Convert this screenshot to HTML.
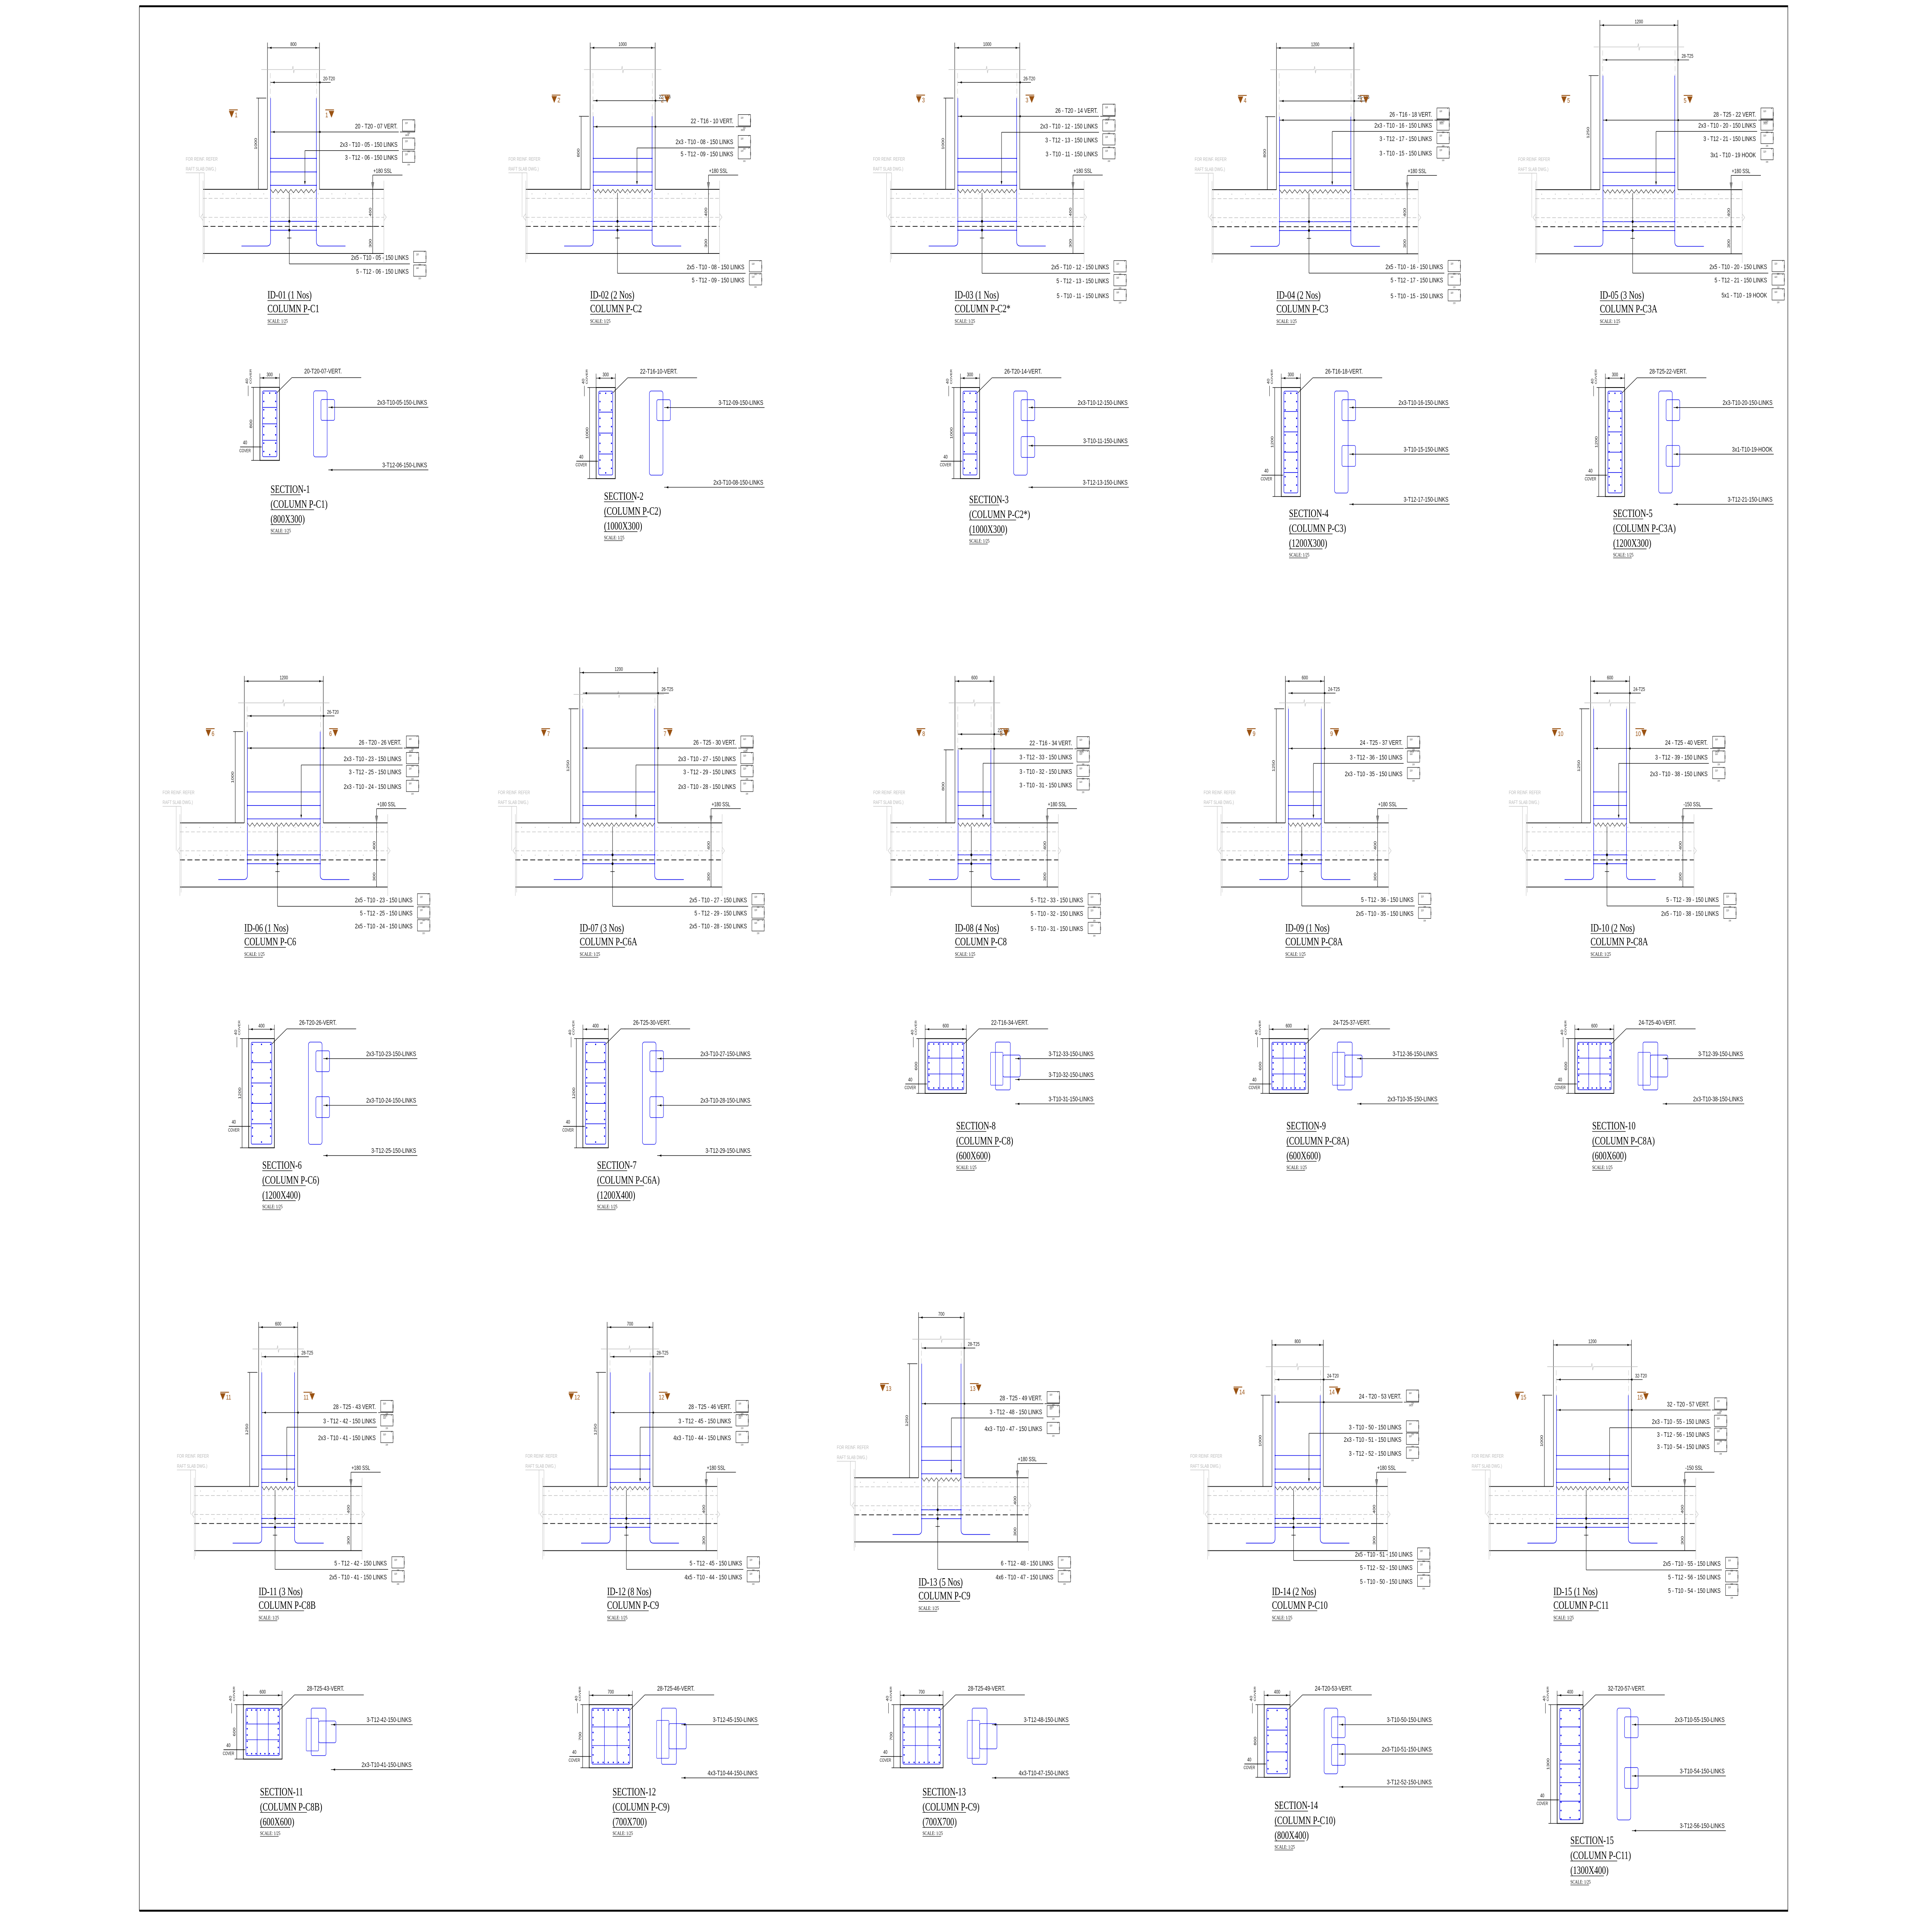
<!DOCTYPE html>
<html><head><meta charset="utf-8">
<style>
html,body{margin:0;padding:0;background:#fff;overflow:hidden;width:100%;height:100%;}
svg{display:block;width:100vw;height:100vh;}
text{font-family:"Liberation Sans",sans-serif;}
.s{font-family:"Liberation Serif",serif;}
</style></head>
<body>
<svg id="d" xmlns="http://www.w3.org/2000/svg" viewBox="0 0 1560.22 1103.78" preserveAspectRatio="none">
<rect width="1560.22" height="1103.78" fill="#fff"/>
</svg>
<script>
let o='';
const BL='#0000ee',GR='#b8b8b8',BR='#9a5212';
function L(x1,y1,x2,y2,c,w,d){o+=`<line x1="${x1.toFixed(2)}" y1="${y1.toFixed(2)}" x2="${x2.toFixed(2)}" y2="${y2.toFixed(2)}" stroke="${c||'#000'}" stroke-width="${w||0.3}"${d?` stroke-dasharray="${d}"`:''}/>`;}
function P(d,c,w,f,da){o+=`<path d="${d}" stroke="${c||'#000'}" stroke-width="${w||0.3}" fill="${f||'none'}"${da?` stroke-dasharray="${da}"`:''}/>`;}
function R(x,y,w,h,c,sw,rx){o+=`<rect x="${x.toFixed(2)}" y="${y.toFixed(2)}" width="${w.toFixed(2)}" height="${h.toFixed(2)}" stroke="${c||'#000'}" stroke-width="${sw||0.3}" fill="none"${rx?` rx="${rx}"`:''}/>`;}
function C(x,y,r,f){o+=`<circle cx="${x.toFixed(2)}" cy="${y.toFixed(2)}" r="${r}" fill="${f||BL}"/>`;}
function T(x,y,s,fs,a,c,cls,rot){
  s=s.replace(/&/g,'&amp;');
  let tr=rot?` transform="rotate(-90 ${x.toFixed(2)} ${y.toFixed(2)})"`:'';
  o+=`<text x="${x.toFixed(2)}" y="${y.toFixed(2)}" font-size="${fs}" fill="${c||'#111'}"${a?` text-anchor="${a}"`:''}${cls?` class="${cls}"`:''}${tr}>${s}</text>`;}
function arrowH(x,y,dir){P(`M${x} ${y}l${-1.6*dir} -0.5v1z`,'#000',0.2,'#000');}
function marker(x,y,n,left){
  if(left){L(x,y-4.2,x+7,y-4.2,BR,0.5);P(`M${x} ${y-3.5}h4l-2 3.6z`,BR,0.2,BR);T(x+4.6,y,n,4,null,BR);}
  else{L(x,y-4.2,x+7,y-4.2,BR,0.5);T(x,y,n,4,null,BR);P(`M${x+3+ (n.length-1)*2} ${y-3.5}h4l-2 3.6z`,BR,0.2,BR);}
}
function box(x,y){R(x,y,10,6.5,'#000',0.25);P(`M${x+8.5} ${y+0.6}l0.6 -0.8`,'#000',0.2);T(x+2,y+2.3,'110',1.4);T(x+10.4,y+4.5,'210',1.2,null,'#111',null,true);T(x+4,y+8.2,'220',1.2);}

function elev(e){
  const x=e.x,y=e.y,w=e.w,xr=x+w,bt=-e.h*0.0525,dt=e.dt,lx=xr+63;
  L(x,y+dt-3,x,y,'#000',0.3);L(xr,y+dt-3,xr,y,'#000',0.3);
  L(x,y+dt,xr,y+dt,'#000',0.3);arrowH(x+1.6,y+dt,-1);arrowH(xr-1.6,y+dt,1);
  T(x+w/2,y+dt-1,e.dim,3,'middle');
  const by=y+dt+12.5,m=x+w/2;
  P(`M${x-5} ${by}H${m-1}l0.6 -2l0.6 4l0.6 -2H${xr+5}`,GR,0.3);
  L(x+2.3,by+2,x+2.3,y+bt,GR,0.25,'3 1.5');L(xr-2.3,by+2,xr-2.3,y+bt,GR,0.25,'3 1.5');
  const vy=y+bt-9;
  L(x+2.5,vy,xr+9,vy,'#000',0.3);arrowH(x+4.1,vy,-1);arrowH(xr-0.9,vy,-1);
  T(xr+3,vy-1.2,e.vert,3);
  P(`M${x+2.5} ${y+bt}V${y+30}Q${x+2.5} ${y+32.6} ${x-0.5} ${y+32.6}H${x-21}`,BL,0.35);
  P(`M${xr-2.5} ${y+bt}V${y+30}Q${xr-2.5} ${y+32.6} ${xr+0.5} ${y+32.6}H${xr+21}`,BL,0.35);
  for(const r of [-2.3,-10,-17.8,18.4,23.5]){L(x+2.5,y+r,xr-2.5,y+r,BL,0.35);C(x+2.5,y+r,0.35);C(xr-2.5,y+r,0.35);}
  let z=`M${x+2.5} ${y}`;const n=Math.max(3,Math.round((w-5)/4));const st=(w-5)/n;
  for(let i=0;i<n;i++){z+=`l${st/2} 2l${st/2} -2`;}P(z,'#000',0.25);
  const sl=x-52,sr=xr+52;
  L(sl,y,x,y,'#000',0.4);L(xr,y,sr,y,'#000',0.4);
  L(sl,y+5.2,sr,y+5.2,GR,0.3,'3 1.5');L(sl,y+16.1,sr,y+16.1,GR,0.3,'3 1.5');
  L(sl,y+21.3,sr,y+21.3,'#000',0.4,'4 2');L(sl,y+36.9,sr,y+36.9,'#000',0.4);
  L(sl,y-5,sl,y+42,GR,0.25);L(sr,y-5,sr,y+42,GR,0.25);
  P(`M${sl} ${y+14}l-2 2l2 2M${sr} ${y+14}l2 2l-2 2`,GR,0.25);
  for(let k=sl+5;k<sr;k+=11){C(k,y+2.6,0.3,GR);C(k,y+18.6,0.3,GR);}
  const dx=xr+43;
  L(dx,y,dx,y+36.9,'#000',0.3);L(dx-1.5,y+21.3,dx+1.5,y+21.3,'#000',0.3);
  T(dx-1,y+13,'400',3,'middle','#111',null,true);T(dx-1,y+31,'300',3,'middle','#111',null,true);
  P(`M${dx-1} ${y-4}h2l-1 4z`,'#555',0.2,'#888');
  L(dx,y-4,dx,y-8.2,'#000',0.3);L(dx,y-8.2,dx+24,y-8.2,'#000',0.3);T(dx+0.5,y-9.5,e.ssl,3.4);
  L(x-7.3,y+bt,x-7.3,y,'#000',0.3);L(x-9,y+bt,x-1,y+bt,'#000',0.3);
  T(x-8.5,y+bt/2,e.hd||String(e.h),3,'middle','#111',null,true);
  marker(x-31,y+(e.my||-50),e.mk,true);marker(xr+4.7,y+(e.my||-50),e.mk,false);
  T(x-66,y-16.5,'FOR REINF. REFER',2.8,null,GR);T(x-66,y-10.8,'RAFT SLAB DWG.)',2.8,null,GR);
  P(`M${x-66} ${y-9.5}H${x-51}V${y+40}M${x-55} ${y-9.5}V${y+16}`,GR,0.25);
  e.top.forEach((s,i)=>{const ly=y+e.tr[i];T(lx,ly,s,3.9,'end');box(lx+4,ly-5);});
  const l0=y+e.tr[0]+2;L(x+2.5,l0,lx+1,l0,'#000',0.3);arrowH(x+4.1,l0,-1);arrowH(xr-0.9,l0,-1);
  P(`M${lx+2} ${l0}H${lx+14}v-5`,'#000',0.3);T(lx+6,l0+2.3,'1625',1.5);
  const l1=y+e.tr[1]+2.2;const ax=x+w*0.72;
  L(ax,l1,lx+1,l1,'#000',0.3);L(ax,l1,ax,y-3,'#000',0.3);P(`M${ax-0.5} ${y-4.6}h1l-0.5 1.6z`,'#000',0.2,'#000');
  const cx=x+w*0.42;
  L(cx,y+2,cx,y+e.br[0]+2.3,'#000',0.3);L(cx-1.7,y+28,cx+1.7,y+28,'#000',0.3);
  C(cx,y+18.4,0.8,'#000');C(cx,y+23.5,0.8,'#000');
  L(cx,y+e.br[0]+2.3,lx+10,y+e.br[0]+2.3,'#000',0.3);
  e.bot.forEach((s,i)=>{const ly=y+e.br[i];T(lx+9,ly,s,3.9,'end');box(lx+13,ly-5);});
  const ty=e.ty;
  T(x,ty,e.id,6.3,null,'#000','s');L(x,ty+1.2,x+e.id.length*2.7,ty+1.2,'#000',0.3);
  T(x,ty+7.9,e.col,6.3,null,'#000','s');L(x,ty+9.1,x+e.col.length*3.05,ty+9.1,'#000',0.3);
  T(x,ty+14,'SCALE: 1/25',3,null,'#000','s');L(x,ty+14.8,x+15,ty+14.8,'#000',0.25);
}

function sec(s){
  const x=s.x,y=s.y,w=s.w,h=s.h;
  R(x,y,w,h,'#000',0.45);
  const ix=x+2.1,iy=y+2.1,iw=w-4.2,ih=h-4.2;
  R(ix,iy,iw,ih,BL,0.35,0.8);
  if(w<25){
    const nseg=Math.round(h/12);
    for(let k=1;k<nseg;k++){const yy=iy+ih*k/nseg;L(ix,yy,ix+iw,yy,BL,0.35);}
    const cols=[ix+1,ix+iw-1];
    for(let yy=iy+1.2;yy<iy+ih;yy+=4.8){C(cols[0],yy,0.45);C(cols[1],yy,0.45);}
    C(ix+iw/2,iy+1.2,0.45);C(ix+iw/2,iy+ih-1.2,0.45);
  }else{
    L(ix+iw/3,iy,ix+iw/3,iy+ih,BL,0.3);L(ix+2*iw/3,iy,ix+2*iw/3,iy+ih,BL,0.3);
    L(ix,iy+ih/3,ix+iw,iy+ih/3,BL,0.3);L(ix,iy+2*ih/3,ix+iw,iy+2*ih/3,BL,0.3);
    for(let k=0;k<=7;k++){const xx=ix+1+(iw-2)*k/7;C(xx,iy+1,0.45);C(xx,iy+ih-1,0.45);}
    for(let k=1;k<7;k++){const yy=iy+1+(ih-2)*k/7;C(ix+1,yy,0.45);C(ix+iw-1,yy,0.45);}
  }
  L(x,y-8,x,y,'#000',0.25);L(x+w,y-8,x+w,y,'#000',0.25);
  L(x,y-5.4,x+w,y-5.4,'#000',0.3);arrowH(x+1.6,y-5.4,-1);arrowH(x+w-1.6,y-5.4,1);
  T(x+w/2,y-6.4,s.dw,3,'middle');
  L(x-5.3,y,x-5.3,y+h,'#000',0.3);L(x-7,y+h,x,y+h,'#000',0.3);L(x-7,y,x,y,'#000',0.3);
  T(x-6.3,y+h/2,s.dh,3,'middle','#111',null,true);
  T(x-9.5,y-2,'40',2.8,null,'#111',null,true);T(x-6.8,y-2,'COVER',2.4,null,'#111',null,true);
  L(x-9.5,y+5,x-9.5,y-1,'#000',0.25);
  T(x-12,y+h*0.78,'40',3,'middle');T(x-12,y+h*0.78+4.5,'COVER',2.6,'middle');
  L(x-16,y+h*0.78+1.5,x+1.5,y+h*0.78+1.5,'#000',0.35);
  const sx=x+w+27.5;
  if(w<25){
    R(sx,y+2,11,h-4,BL,0.3,1.5);
    const n=s.links.length;
    for(let k=0;k<n-1;k++){R(sx+6,y+6+k*(h-10)/(n-1)+1,11,Math.min(12,(h-14)/(n-1)),BL,0.3,1);}
  }else{
    R(sx-4,y+2,12,h-4,BL,0.3,1);R(sx+2,y+h*0.3,14,h*0.4,BL,0.3,1);R(sx-8,y+h*0.25,10,h*0.6,BL,0.25,0.5);
  }
  const vx=x+w+20;
  T(vx,y-8,s.vert,3.9);L(vx-10,y-5.6,vx+46,y-5.6,'#000',0.3);L(vx-10,y-5.6,x+w-2,y+3,'#000',0.3);
  const n=s.links.length,re=x+136+Math.max(0,w-16)*0.05;
  s.links.forEach((t,i)=>{const ly=y+8+(h-2)*(n==1?0.5:i/(n-1))*0.95+ (i==0?2:0);
    T(re-1,ly,t,3.9,'end');L(sx+12,ly+1.5,re,ly+1.5,'#000',0.3);arrowH(sx+13.6,ly+1.5,-1);});
  const tx=s.tx,ty=s.ty;
  s.title.forEach((t,i)=>{const yy=ty+i*8.6;T(tx,yy,t,6.3,null,'#000','s');L(tx,yy+1.2,tx+t.length*2.7,yy+1.2,'#000',0.3);});
  T(tx,ty+22.8,'SCALE: 1/25',3,null,'#000','s');L(tx,ty+23.6,tx+15,ty+23.6,'#000',0.25);
}

L(112.5,3.6,1444,3.6,'#000',1.1);L(112.5,1099,1444,1099,'#000',1.1);
L(112.5,3.6,112.5,1099,'#000',0.35);L(1443.8,3.6,1443.8,1099,'#000',0.35);

const T4=[-45,-35.5,-28,-19.5];
const E=[
{x:216,y:108.9,w:42,h:1000,dt:-81.4,mk:'1',my:-41.5,dim:'800',vert:'20-T20',ssl:'+180 SSL',id:'ID-01 (1 Nos)',col:'COLUMN P-C1',ty:171.7,
 top:['20 - T20 - 07  VERT.','2x3 - T10 - 05 - 150  LINKS','3 - T12 - 06 - 150  LINKS'],tr:[-35,-24.5,-17],
 bot:['2x5 - T10 - 05 - 150  LINKS','5 - T12 - 06 - 150  LINKS'],br:[40.6,48.5]},
{x:476.6,y:108.9,w:52.5,h:800,dt:-81.4,mk:'2',my:-50,dim:'1000',vert:'22-T16',ssl:'+180 SSL',id:'ID-02 (2 Nos)',col:'COLUMN P-C2',ty:171.7,
 top:['22 - T16 - 10  VERT.','2x3 - T10 - 08 - 150  LINKS','5 - T12 - 09 - 150  LINKS'],tr:[-38,-26,-19],
 bot:['2x5 - T10 - 08 - 150  LINKS','5 - T12 - 09 - 150  LINKS'],br:[46,53.5]},
{x:771,y:108.9,w:52.5,h:1000,dt:-81.4,mk:'3',dim:'1000',vert:'26-T20',ssl:'+180 SSL',id:'ID-03 (1 Nos)',col:'COLUMN P-C2*',ty:171.7,
 top:['26 - T20 - 14  VERT.','2x3 - T10 - 12 - 150  LINKS','3 - T12 - 13 - 150  LINKS','3 - T10 - 11 - 150  LINKS'],tr:[-44,-35,-27,-19],
 bot:['2x5 - T10 - 12 - 150  LINKS','5 - T12 - 13 - 150  LINKS','5 - T10 - 11 - 150  LINKS'],br:[46,54,62.5]},
{x:1030.8,y:109.1,w:62.6,h:800,dt:-81.5,mk:'4',dim:'1200',vert:'26-T16',ssl:'+180 SSL',id:'ID-04 (2 Nos)',col:'COLUMN P-C3',ty:171.8,
 top:['26 - T16 - 18  VERT.','2x3 - T10 - 16 - 150  LINKS','3 - T12 - 17 - 150  LINKS','3 - T10 - 15 - 150  LINKS'],tr:[-42,-35.7,-28,-19.6],
 bot:['2x5 - T10 - 16 - 150  LINKS','5 - T12 - 17 - 150  LINKS','5 - T10 - 15 - 150  LINKS'],br:[45.7,53.4,62.5]},
{x:1292,y:109.1,w:63,h:1250,dt:-94.6,mk:'5',dim:'1200',vert:'28-T25',ssl:'+180 SSL',id:'ID-05 (3 Nos)',col:'COLUMN P-C3A',ty:171.8,
 top:['28 - T25 - 22  VERT.','2x3 - T10 - 20 - 150  LINKS','3 - T12 - 21 - 150  LINKS','3x1 - T10 - 19    HOOK'],tr:[-42,-35.7,-28,-18.7],
 bot:['2x5 - T10 - 20 - 150  LINKS','5 - T12 - 21 - 150  LINKS','5x1 - T10 - 19    HOOK'],br:[45.7,53.4,62]},
{x:197.3,y:473.3,w:63.8,h:1000,dt:-81.5,mk:'6',dim:'1200',vert:'26-T20',ssl:'+180 SSL',id:'ID-06 (1 Nos)',col:'COLUMN P-C6',ty:535.8,
 top:['26 - T20 - 26  VERT.','2x3 - T10 - 23 - 150  LINKS','3 - T12 - 25 - 150  LINKS','2x3 - T10 - 24 - 150  LINKS'],tr:T4,
 bot:['2x5 - T10 - 23 - 150  LINKS','5 - T12 - 25 - 150  LINKS','2x5 - T10 - 24 - 150  LINKS'],br:[45.7,53.3,60.7]},
{x:468.2,y:473.3,w:63,h:1250,dt:-86.4,mk:'7',dim:'1200',vert:'26-T25',ssl:'+180 SSL',id:'ID-07 (3 Nos)',col:'COLUMN P-C6A',ty:535.8,
 top:['26 - T25 - 30  VERT.','2x3 - T10 - 27 - 150  LINKS','3 - T12 - 29 - 150  LINKS','2x3 - T10 - 28 - 150  LINKS'],tr:T4,
 bot:['2x5 - T10 - 27 - 150  LINKS','5 - T12 - 29 - 150  LINKS','2x5 - T10 - 28 - 150  LINKS'],br:[45.7,53.3,60.7]},
{x:771.2,y:473.3,w:31.5,h:800,dt:-81.5,mk:'8',dim:'600',vert:'22-T16',ssl:'+180 SSL',id:'ID-08 (4 Nos)',col:'COLUMN P-C8',ty:535.8,
 top:['22 - T16 - 34  VERT.','3 - T12 - 33 - 150  LINKS','3 - T10 - 32 - 150  LINKS','3 - T10 - 31 - 150  LINKS'],tr:[-44.6,-36.5,-28.2,-20.4],
 bot:['5 - T12 - 33 - 150  LINKS','5 - T10 - 32 - 150  LINKS','5 - T10 - 31 - 150  LINKS'],br:[45.7,53.5,62.2]},
{x:1038,y:473.3,w:31.5,h:1250,dt:-81.5,mk:'9',dim:'600',vert:'24-T25',ssl:'+180 SSL',id:'ID-09 (1 Nos)',col:'COLUMN P-C8A',ty:535.8,
 top:['24 - T25 - 37  VERT.','3 - T12 - 36 - 150  LINKS','2x3 - T10 - 35 - 150  LINKS'],tr:[-44.8,-36.4,-26.9],
 bot:['5 - T12 - 36 - 150  LINKS','2x5 - T10 - 35 - 150  LINKS'],br:[45.5,53.5]},
{x:1284.5,y:473.3,w:31.5,h:1250,dt:-81.5,mk:'10',dim:'600',vert:'24-T25',ssl:'-150 SSL',id:'ID-10 (2 Nos)',col:'COLUMN P-C8A',ty:535.8,
 top:['24 - T25 - 40  VERT.','3 - T12 - 39 - 150  LINKS','2x3 - T10 - 38 - 150  LINKS'],tr:[-44.8,-36.4,-26.9],
 bot:['5 - T12 - 39 - 150  LINKS','2x5 - T10 - 38 - 150  LINKS'],br:[45.5,53.5]},
{x:208.9,y:855,w:31.5,h:1250,dt:-91.6,mk:'11',dim:'600',vert:'28-T25',ssl:'+180 SSL',id:'ID-11 (3 Nos)',col:'COLUMN P-C8B',ty:917.4,
 top:['28 - T25 - 43  VERT.','3 - T12 - 42 - 150  LINKS','2x3 - T10 - 41 - 150  LINKS'],tr:[-44.5,-36.3,-26.7],
 bot:['5 - T12 - 42 - 150  LINKS','2x5 - T10 - 41 - 150  LINKS'],br:[45.4,53.4]},
{x:490.3,y:855,w:37,h:1250,dt:-91.6,mk:'12',dim:'700',vert:'28-T25',ssl:'+180 SSL',id:'ID-12 (8 Nos)',col:'COLUMN P-C9',ty:917.4,
 top:['28 - T25 - 46  VERT.','3 - T12 - 45 - 150  LINKS','4x3 - T10 - 44 - 150  LINKS'],tr:[-44.5,-36.3,-26.7],
 bot:['5 - T12 - 45 - 150  LINKS','4x5 - T10 - 44 - 150  LINKS'],br:[45.4,53.4]},
{x:741.8,y:850,w:36.8,h:1250,dt:-92.2,mk:'13',dim:'700',vert:'28-T25',ssl:'+180 SSL',id:'ID-13 (5 Nos)',col:'COLUMN P-C9',ty:912,
 top:['28 - T25 - 49  VERT.','3 - T12 - 48 - 150  LINKS','4x3 - T10 - 47 - 150  LINKS'],tr:[-44.6,-36.6,-26.9],
 bot:['6 - T12 - 48 - 150  LINKS','4x6 - T10 - 47 - 150  LINKS'],br:[50.4,58.4]},
{x:1027.2,y:855,w:41.5,h:1000,dt:-81.4,mk:'14',my:-53,dim:'800',vert:'24-T20',ssl:'+180 SSL',id:'ID-14 (2 Nos)',col:'COLUMN P-C10',ty:917.4,
 top:['24 - T20 - 53  VERT.','3 - T10 - 50 - 150  LINKS','2x3 - T10 - 51 - 150  LINKS','3 - T12 - 52 - 150  LINKS'],tr:[-50.5,-32.8,-25.7,-17.7],
 bot:['2x5 - T10 - 51 - 150  LINKS','5 - T12 - 52 - 150  LINKS','5 - T10 - 50 - 150  LINKS'],br:[40.3,48,56]},
{x:1254.5,y:855,w:63,h:1000,dt:-81.4,mk:'15',dim:'1200',vert:'32-T20',ssl:'-150 SSL',id:'ID-15 (1 Nos)',col:'COLUMN P-C11',ty:917.4,
 top:['32 - T20 - 57  VERT.','2x3 - T10 - 55 - 150  LINKS','3 - T12 - 56 - 150  LINKS','3 - T10 - 54 - 150  LINKS'],tr:[-46,-36,-28.6,-21.5],
 bot:['2x5 - T10 - 55 - 150  LINKS','5 - T12 - 56 - 150  LINKS','5 - T10 - 54 - 150  LINKS'],br:[45.7,53.4,61.2]}
];
E.forEach(elev);

const S=[
{x:209.9,y:222.8,w:15.8,h:42,dw:'300',dh:'800',vert:'20-T20-07-VERT.',links:['2x3-T10-05-150-LINKS','3-T12-06-150-LINKS'],title:['SECTION-1','(COLUMN P-C1)','(800X300)'],tx:218.5,ty:283.4},
{x:481.4,y:222.9,w:15.5,h:52.4,dw:'300',dh:'1000',vert:'22-T16-10-VERT.',links:['3-T12-09-150-LINKS','2x3-T10-08-150-LINKS'],title:['SECTION-2','(COLUMN P-C2)','(1000X300)'],tx:487.8,ty:287.4},
{x:775.6,y:222.9,w:15.5,h:52.4,dw:'300',dh:'1000',vert:'26-T20-14-VERT.',links:['2x3-T10-12-150-LINKS','3-T10-11-150-LINKS','3-T12-13-150-LINKS'],title:['SECTION-3','(COLUMN P-C2*)','(1000X300)'],tx:782.7,ty:289.3},
{x:1034.7,y:222.9,w:15.5,h:62.7,dw:'300',dh:'1200',vert:'26-T16-18-VERT.',links:['2x3-T10-16-150-LINKS','3-T10-15-150-LINKS','3-T12-17-150-LINKS'],title:['SECTION-4','(COLUMN P-C3)','(1200X300)'],tx:1041,ty:297.3},
{x:1296.4,y:222.9,w:15.6,h:62.7,dw:'300',dh:'1200',vert:'28-T25-22-VERT.',links:['2x3-T10-20-150-LINKS','3x1-T10-19-HOOK','3-T12-21-150-LINKS'],title:['SECTION-5','(COLUMN P-C3A)','(1200X300)'],tx:1302.7,ty:297.3},
{x:200.8,y:597.4,w:20.8,h:62.8,dw:'400',dh:'1200',vert:'26-T20-26-VERT.',links:['2x3-T10-23-150-LINKS','2x3-T10-24-150-LINKS','3-T12-25-150-LINKS'],title:['SECTION-6','(COLUMN P-C6)','(1200X400)'],tx:211.8,ty:672.2},
{x:470.7,y:597.4,w:20.6,h:62.8,dw:'400',dh:'1200',vert:'26-T25-30-VERT.',links:['2x3-T10-27-150-LINKS','2x3-T10-28-150-LINKS','3-T12-29-150-LINKS'],title:['SECTION-7','(COLUMN P-C6A)','(1200X400)'],tx:482.2,ty:672.2},
{x:747.1,y:597.4,w:33.3,h:31.5,dw:'600',dh:'600',vert:'22-T16-34-VERT.',links:['3-T12-33-150-LINKS','3-T10-32-150-LINKS','3-T10-31-150-LINKS'],title:['SECTION-8','(COLUMN P-C8)','(600X600)'],tx:772.2,ty:649.6},
{x:1025,y:597.4,w:31.5,h:31.5,dw:'600',dh:'600',vert:'24-T25-37-VERT.',links:['3-T12-36-150-LINKS','2x3-T10-35-150-LINKS'],title:['SECTION-9','(COLUMN P-C8A)','(600X600)'],tx:1038.9,ty:649.6},
{x:1271.8,y:597.4,w:31.5,h:31.5,dw:'600',dh:'600',vert:'24-T25-40-VERT.',links:['3-T12-39-150-LINKS','2x3-T10-38-150-LINKS'],title:['SECTION-10','(COLUMN P-C8A)','(600X600)'],tx:1285.8,ty:649.6},
{x:196.5,y:980.5,w:31.3,h:31.3,dw:'600',dh:'600',vert:'28-T25-43-VERT.',links:['3-T12-42-150-LINKS','2x3-T10-41-150-LINKS'],title:['SECTION-11','(COLUMN P-C8B)','(600X600)'],tx:210,ty:1032.7},
{x:475.8,y:980.5,w:34.9,h:36.3,dw:'700',dh:'700',vert:'28-T25-46-VERT.',links:['3-T12-45-150-LINKS','4x3-T10-44-150-LINKS'],title:['SECTION-12','(COLUMN P-C9)','(700X700)'],tx:494.7,ty:1032.7},
{x:727,y:980.5,w:34.6,h:36.3,dw:'700',dh:'700',vert:'28-T25-49-VERT.',links:['3-T12-48-150-LINKS','4x3-T10-47-150-LINKS'],title:['SECTION-13','(COLUMN P-C9)','(700X700)'],tx:745,ty:1032.7},
{x:1020.9,y:980.5,w:20.9,h:41.8,dw:'400',dh:'800',vert:'24-T20-53-VERT.',links:['3-T10-50-150-LINKS','2x3-T10-51-150-LINKS','3-T12-52-150-LINKS'],title:['SECTION-14','(COLUMN P-C10)','(800X400)'],tx:1029.3,ty:1040.5},
{x:1257.5,y:980.5,w:20.9,h:68.3,dw:'400',dh:'1300',vert:'32-T20-57-VERT.',links:['2x3-T10-55-150-LINKS','3-T10-54-150-LINKS','3-T12-56-150-LINKS'],title:['SECTION-15','(COLUMN P-C11)','(1300X400)'],tx:1268.2,ty:1060.6}
];
S.forEach(sec);
document.getElementById('d').insertAdjacentHTML('beforeend',o);
</script>
</body></html>
